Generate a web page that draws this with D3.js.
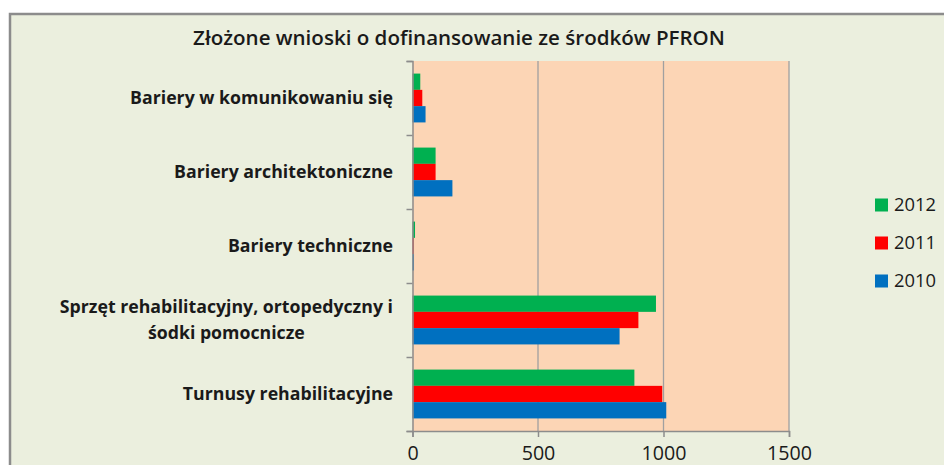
<!DOCTYPE html>
<html><head><meta charset="utf-8">
<script src="https://cdn.jsdelivr.net/npm/d3@7"></script>
<style>body{margin:0;background:#fff;} svg{display:block;}</style>
</head><body>
<svg id="chart" width="944" height="465"></svg>
<script>
const title = "Złożone wnioski o dofinansowanie ze środków PFRON";
const categories = [
  ["Bariery w komunikowaniu się"],
  ["Bariery architektoniczne"],
  ["Bariery techniczne"],
  ["Sprzęt rehabilitacyjny, ortopedyczny i", "śodki pomocnicze"],
  ["Turnusy rehabilitacyjne"]
];
const seriesNames = ["2012", "2011", "2010"];
const seriesColors = ["#00B050", "#FF0000", "#0070C0"];
const values2012 = [31, 92, 10, 970, 884];
const values2011 = [39, 92, 5, 900, 995];
const values2010 = [52, 159, 6, 825, 1011];
const xTicks = [0, 500, 1000, 1500];

const seriesValues = [values2012, values2011, values2010];
const svg = d3.select("#chart");
const font = "'Open Sans', 'Noto Sans', sans-serif";

function fitSize(text, weight, baseSize, targetWidth) {
  const t = svg.append("text").text(text).attr("font-family", font).attr("font-weight", weight).attr("font-size", baseSize);
  const w = t.node().getComputedTextLength();
  t.remove();
  return baseSize * targetWidth / w;
}

// frame
svg.append("rect").attr("x", 0).attr("y", 0).attr("width", 944).attr("height", 465).attr("fill", "#fff");
svg.append("rect").attr("x", 10).attr("y", 14).attr("width", 960).attr("height", 480)
  .attr("fill", "#EBEFDE").attr("stroke", "#8c8c8c").attr("stroke-width", 2.5);

const m = {left: 412.5, right: 789, top: 61, bottom: 431};
const x = d3.scaleLinear().domain([0, 1500]).range([m.left, m.right]);
const y = d3.scaleBand().domain(d3.range(categories.length)).range([m.top, m.bottom]).paddingInner(0.34).paddingOuter(0.17);
const ys = d3.scaleBand().domain(d3.range(seriesNames.length)).range([0, y.bandwidth()]);

// plot bg
svg.append("rect").attr("x", m.left).attr("y", m.top).attr("width", m.right - m.left).attr("height", m.bottom - m.top)
  .attr("fill", "#FCD5B5");

// gridlines
svg.append("g").selectAll("line").data(xTicks.slice(1)).join("line")
  .attr("x1", d => x(d)).attr("x2", d => x(d)).attr("y1", m.top).attr("y2", m.bottom)
  .attr("stroke", "#a0a0a0").attr("stroke-width", 1.3);

// bars
const groups = svg.append("g").selectAll("g").data(categories).join("g")
  .attr("transform", (d, i) => `translate(0,${y(i)})`);
groups.each(function(d, ci) {
  d3.select(this).selectAll("rect").data(seriesValues.map((s, si) => ({v: s[ci], si}))).join("rect")
    .attr("x", x(0)).attr("y", e => ys(e.si)).attr("height", ys.bandwidth())
    .attr("width", e => x(e.v) - x(0)).attr("fill", e => seriesColors[e.si]);
});

const tickSize = fitSize("1000", 400, 18, 45);
// x axis
const xAxis = d3.axisBottom(x).tickValues(xTicks).tickSize(6).tickFormat(d3.format("d"));
const gx = svg.append("g").attr("transform", `translate(0,${m.bottom})`).call(xAxis);
gx.select(".domain").attr("stroke", "#8c8c8c").attr("stroke-width", 1.5);
gx.selectAll(".tick line").attr("stroke", "#8c8c8c").attr("stroke-width", 1.5);
gx.selectAll(".tick text").attr("font-family", font).attr("font-size", tickSize).attr("fill", "#1a1a1a").attr("dy", "0.71em").attr("y", 15);

// y axis
const yb = d3.scaleLinear().domain([0, categories.length]).range([m.top, m.bottom]);
const yAxis = d3.axisLeft(yb).tickValues(d3.range(categories.length + 1)).tickSize(6).tickFormat("");
const gy = svg.append("g").attr("transform", `translate(${m.left},0)`).call(yAxis);
gy.select(".domain").attr("stroke", "#8c8c8c").attr("stroke-width", 1.5);
gy.selectAll(".tick line").attr("stroke", "#8c8c8c").attr("stroke-width", 1.5);

// category labels
const labelSize = fitSize("Bariery w komunikowaniu się", "bold", 16, 263);
let line1W = 0;
categories.forEach((lines, i) => {
  const cy = y(i) + y.bandwidth() / 2;
  const n = lines.length;
  const g = svg.append("g");
  const txts = lines.map((t, li) => g.append("text").text(t)
      .attr("y", cy + (li - (n - 1) / 2) * 26).attr("dy", "0.35em")
      .attr("font-family", font).attr("font-weight", "bold").attr("font-size", labelSize).attr("fill", "#1a1a1a"));
  if (n > 1) {
    const maxW = d3.max(txts, t => t.node().getComputedTextLength());
    txts.forEach(t => t.attr("x", 393 - maxW / 2).attr("text-anchor", "middle"));
  } else {
    txts.forEach(t => t.attr("x", 393).attr("text-anchor", "end"));
  }
});

// title
const titleSize = fitSize(title, 600, 18, 532);
svg.append("text").text(title).attr("x", 459).attr("y", 38).attr("dy", "0.35em")
  .attr("text-anchor", "middle").attr("font-family", font).attr("font-weight", 600)
  .attr("font-size", titleSize).attr("fill", "#1a1a1a");

// legend
const legendSize = fitSize("2012", 400, 18, 42);
const lg = svg.append("g").selectAll("g").data(seriesNames).join("g")
  .attr("transform", (d, i) => `translate(875,${205 + i * 38})`);
lg.append("rect").attr("x", 0).attr("y", -6.5).attr("width", 13).attr("height", 13).attr("fill", (d, i) => seriesColors[i]);
lg.append("text").text(d => d).attr("x", 19).attr("dy", "0.35em")
  .attr("font-family", font).attr("font-size", legendSize).attr("fill", "#1a1a1a");
</script>
</body></html>
